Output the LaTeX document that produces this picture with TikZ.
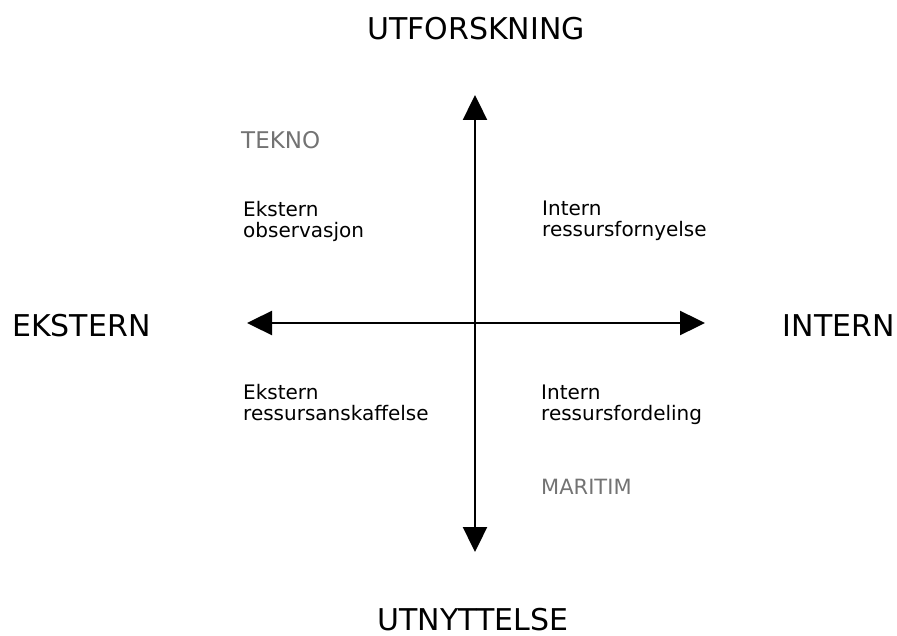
\documentclass[tikz,border=0pt]{standalone}
\usepackage{fontspec}
\setmainfont{DejaVu Sans}
\usetikzlibrary{arrows.meta}
\begin{document}
\begin{tikzpicture}[x=1pt,y=-1pt,
  axis/.style={line width=2.4pt, -{Triangle[length=25pt,width=24pt]}},
  pole/.style={font=\fontsize{30}{34}\selectfont, inner sep=0pt},
  quad/.style={font=\fontsize{20}{21}\selectfont, align=left, anchor=north west, inner sep=0pt},
  tag/.style={text=black!55, anchor=base west, inner sep=0pt}]
  \useasboundingbox (0,0) rectangle (897,636);
  % axis end points and centre
  \coordinate (o) at (475,323);
  \coordinate (top) at (475,95);
  \coordinate (bot) at (475,552);
  \coordinate (lft) at (247,323);
  \coordinate (rgt) at (705,323);
  % axes
  \draw[axis] (o) -- (top);
  \draw[axis] (o) -- (bot);
  \draw[axis] (o) -- (lft);
  \draw[axis] (o) -- (rgt);
  % pole labels
  \node[pole, anchor=base] (utf) at (476,40) {UTFORSKNING};
  \node[pole, anchor=base] (utn) at (473,630) {UTNYTTELSE};
  \node[pole, anchor=base west] (eks) at (12,337) {EKSTERN};
  \node[pole, anchor=base east] (int) at (895,337) {INTERN};
  % quadrant labels
  \node[tag, font=\fontsize{23}{26}\selectfont] (tekno) at (241,149) {TEKNO};
  \node[quad] (q1) at (243,201) {Ekstern\\observasjon};
  \node[quad] (q2) at (542,201) {Intern\\ressursfornyelse};
  \node[quad] (q3) at (243,384) {Ekstern\\ressursanskaffelse};
  \node[quad] (q4) at (541,385) {Intern\\ressursfordeling};
  \node[tag, font=\fontsize{21}{24}\selectfont] (maritim) at (541,494) {MARITIM};
\end{tikzpicture}
\end{document}
